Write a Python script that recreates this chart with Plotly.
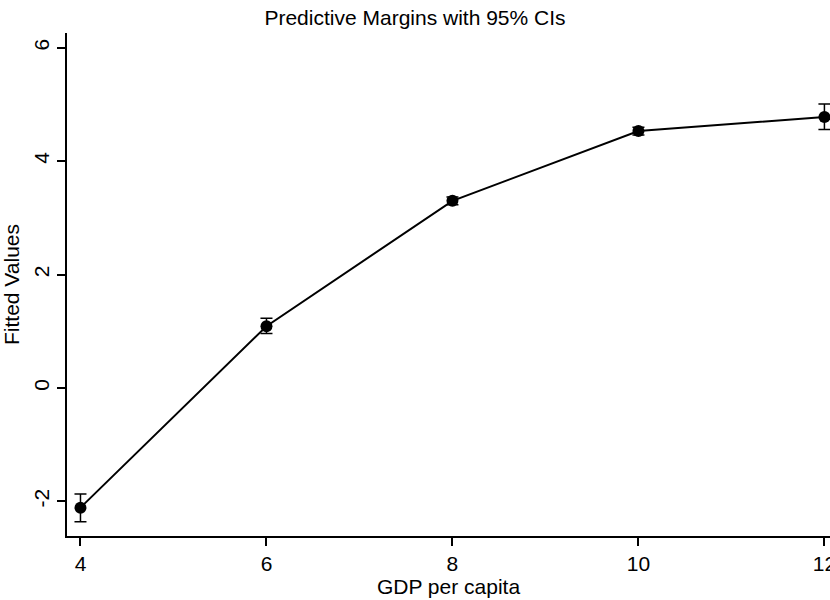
import plotly.graph_objects as go

# Predictive margins of fitted values across GDP per capita levels
gdp = [4, 6, 8, 10, 12]
fitted = [-2.11, 1.09, 3.30, 4.53, 4.78]
ci_upper = [-1.87, 1.23, 3.37, 4.60, 5.01]
ci_lower = [-2.36, 0.96, 3.23, 4.46, 4.56]

err_plus = [u - f for u, f in zip(ci_upper, fitted)]
err_minus = [f - l for f, l in zip(fitted, ci_lower)]

font_family = "Liberation Sans, Arial, sans-serif"

fig = go.Figure()
fig.add_trace(go.Scatter(
    x=gdp, y=fitted,
    mode="lines+markers",
    line=dict(color="black", width=2),
    marker=dict(color="black", size=12, symbol="circle"),
    error_y=dict(type="data", symmetric=False, array=err_plus, arrayminus=err_minus,
                 color="black", thickness=1.5, width=6),
    showlegend=False,
))

fig.update_layout(
    width=830, height=600,
    margin=dict(l=67, r=0, t=33, b=64),
    paper_bgcolor="white", plot_bgcolor="white",
    font=dict(family=font_family, color="black", size=21),
    title=dict(text="Predictive Margins with 95% CIs", x=0.5, xanchor="center",
               y=1 - 18 / 600, yanchor="middle", yref="container",
               font=dict(size=21, family=font_family, color="black")),
    xaxis=dict(
        range=[3.855, 12.06], tickvals=gdp, ticktext=[str(v) for v in gdp],
        showgrid=False, zeroline=False, showline=True, linecolor="black", linewidth=1.5,
        ticks="outside", ticklen=8, tickwidth=1.5, tickcolor="black",
        tickfont=dict(size=21), ticklabeloverflow="allow", automargin=False,
        title=dict(text="GDP per capita", standoff=2, font=dict(size=21)),
    ),
    yaxis=dict(
        range=[-2.61, 6.26], tickvals=[-2, 0, 2, 4, 6], ticktext=["-2", "0", "2", "4", "6"],
        tickangle=-90, automargin=False,
        showgrid=False, zeroline=False, showline=True, linecolor="black", linewidth=1.5,
        ticks="outside", ticklen=8, tickwidth=1.5, tickcolor="black",
        tickfont=dict(size=21),
        title=dict(text="Fitted Values", standoff=4, font=dict(size=21)),
    ),
)

fig.write_html("out.html")
